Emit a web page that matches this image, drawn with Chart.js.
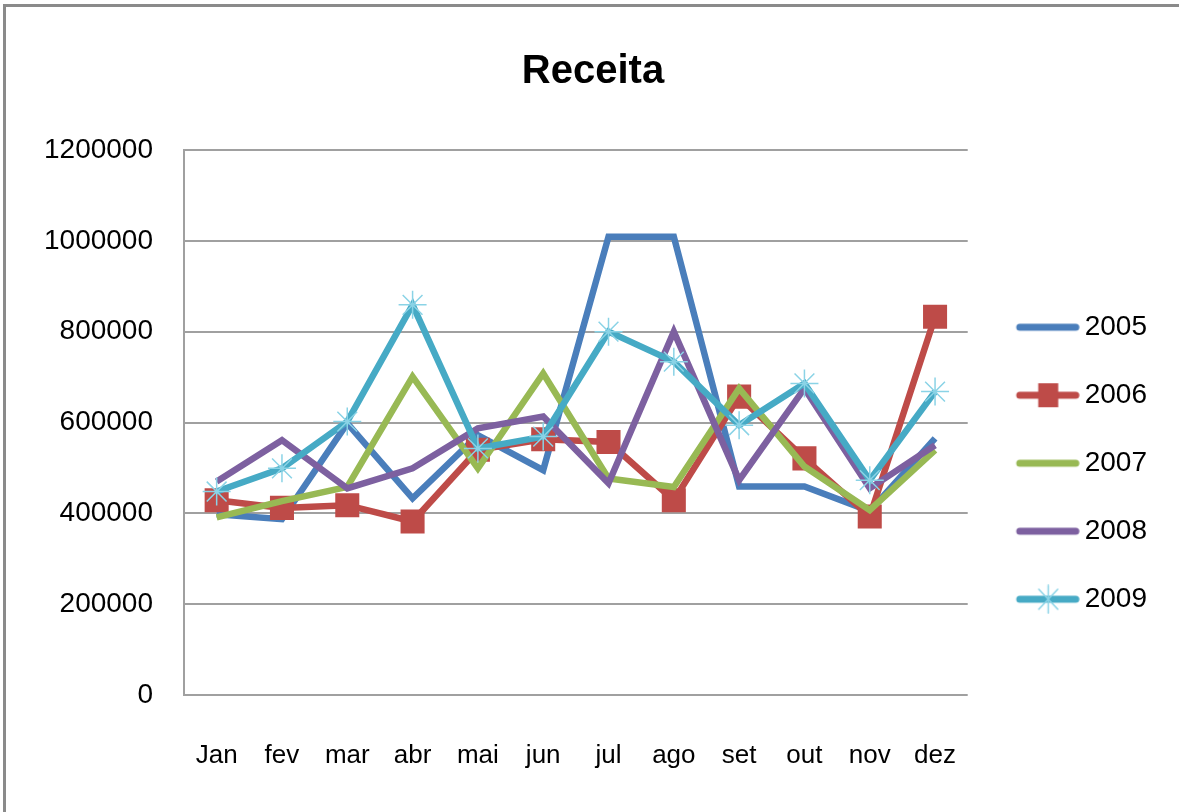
<!DOCTYPE html>
<html>
<head>
<meta charset="utf-8">
<script src="https://cdn.jsdelivr.net/npm/chart.js@4"></script>
<style>
    body { margin: 0; background: #fff; }
    #moldura { position: absolute; left: 3px; top: 4px; width: 1300px; height: 900px; border-top: 3px solid #8a8a8a; border-left: 3px solid #8a8a8a; }
    #caixa { position: absolute; left: 0; top: 0; width: 1179px; height: 812px; }
</style>
</head>
<body>
<div id="moldura"></div>
<div id="caixa"><canvas id="receita"></canvas></div>
<script>
// Dados
const meses = ['Jan', 'fev', 'mar', 'abr', 'mai', 'jun', 'jul', 'ago', 'set', 'out', 'nov', 'dez'];
const anos = ['2005', '2006', '2007', '2008', '2009'];
const receita2005 = [398000, 387000, 598000, 433000, 572000, 495000, 1009000, 1009000, 459000, 459000, 405000, 565000];
const receita2006 = [429000, 412000, 418000, 382000, 540000, 563000, 557000, 429000, 657000, 521000, 393000, 833000];
const receita2007 = [391000, 427000, 458000, 701000, 499000, 708000, 477000, 458000, 675000, 503000, 407000, 539000];
const receita2008 = [470000, 561000, 455000, 499000, 587000, 613000, 466000, 800000, 473000, 675000, 455000, 550000];
const receita2009 = [448000, 499000, 602000, 859000, 543000, 569000, 800000, 734000, 594000, 686000, 473000, 668000];
const yTicks = [0, 200000, 400000, 600000, 800000, 1000000, 1200000];

const series = [receita2005, receita2006, receita2007, receita2008, receita2009];
const cores = ['#4a7ebb', '#be4b48', '#98b954', '#7d60a0', '#46aac5'];
const marcadores = [false, 'rect', false, false, 'star'];

// Imagem da legenda: linha com o marcador no meio
function iconeLegenda(cor, marcador) {
    const c = document.createElement('canvas');
    c.width = 81; c.height = 30;
    const g = c.getContext('2d');
    g.strokeStyle = cor;
    g.lineWidth = 7;
    g.lineCap = 'round';
    g.beginPath(); g.moveTo(21, 15); g.lineTo(77, 15); g.stroke();
    if (marcador === 'rect') {
        g.fillStyle = cor;
        g.fillRect(49.5 - 10, 15 - 12, 20, 24);
    } else if (marcador === 'star') {
        g.strokeStyle = '#8ad3e6';
        g.lineWidth = 1.5;
        g.beginPath();
        g.moveTo(49.5, 1); g.lineTo(49.5, 29);
        g.moveTo(40, 5); g.lineTo(59, 25);
        g.moveTo(59, 5); g.lineTo(40, 25);
        g.stroke();
    }
    return c;
}

const datasets = anos.map((ano, i) => ({
    label: ano,
    data: series[i],
    borderColor: cores[i],
    backgroundColor: cores[i],
    borderWidth: 6.5,
    tension: 0,
    order: anos.length - i,
    pointStyle: marcadores[i] || 'circle',
    pointRadius: marcadores[i] === 'rect' ? 17 : (marcadores[i] === 'star' ? 14 : 0),
    pointBorderWidth: marcadores[i] === 'star' ? 1.5 : 0,
    pointBorderColor: marcadores[i] === 'star' ? '#8ad3e6' : cores[i],
    pointBackgroundColor: cores[i]
}));

new Chart(document.getElementById('receita'), {
    type: 'line',
    data: { labels: meses, datasets: datasets },
    options: {
        responsive: true,
        maintainAspectRatio: false,
        animation: false,
        layout: { padding: { left: 29, top: 0, right: 22, bottom: 0 } },
        plugins: {
            tooltip: { enabled: false },
            title: {
                display: true,
                text: 'Receita',
                color: '#000',
                font: { family: "'Liberation Sans', Arial, sans-serif", size: 40, weight: 'bold' },
                padding: { top: 48, bottom: 54 }
            },
            legend: {
                position: 'right',
                fullSize: false,
                title: { display: true, text: ' ', font: { size: 12 }, padding: { top: 33, bottom: 34 } },
                labels: {
                    usePointStyle: true,
                    pointStyleWidth: 63,
                    padding: 40,
                    color: '#000',
                    font: { family: "'Liberation Sans', Arial, sans-serif", size: 28 },
                    sort: (a, b) => a.datasetIndex - b.datasetIndex,
                    generateLabels: function(chart) {
                        const itens = Chart.defaults.plugins.legend.labels.generateLabels(chart);
                        itens.forEach(item => {
                            item.pointStyle = iconeLegenda(cores[item.datasetIndex], marcadores[item.datasetIndex]);
                        });
                        return itens;
                    }
                }
            }
        },
        scales: {
            x: {
                offset: true,
                afterFit: s => { s.height = 117; },
                grid: { display: false, drawTicks: false },
                border: { display: false },
                ticks: {
                    padding: 45,
                    color: '#000',
                    maxRotation: 0,
                    font: { family: "'Liberation Sans', Arial, sans-serif", size: 26 }
                }
            },
            y: {
                min: 0,
                max: 1200000,
                afterFit: s => { s.width = 155; },
                afterBuildTicks: s => { s.ticks = yTicks.map(v => ({ value: v })); },
                grid: { color: '#a0a0a0', lineWidth: 2, drawTicks: false },
                border: { color: '#a0a0a0', width: 2 },
                ticks: {
                    padding: 31,
                    color: '#000',
                    font: { family: "'Liberation Sans', Arial, sans-serif", size: 28 },
                    callback: v => String(v)
                }
            }
        }
    }
});
</script>
</body>
</html>
